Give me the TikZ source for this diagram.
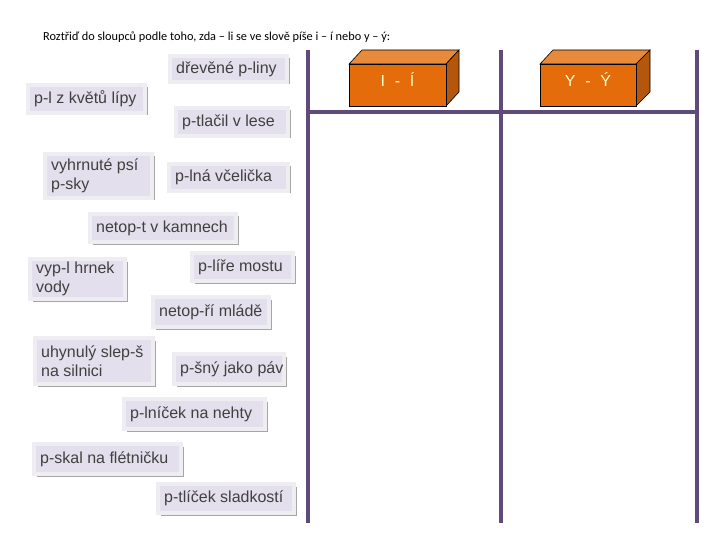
\documentclass[tikz,border=0pt]{standalone}
\usepackage{fontspec}
\setmainfont{Liberation Sans}
\newfontfamily\titlefont{Carlito}
\usetikzlibrary{shadows}
\definecolor{lav}{HTML}{E4DFEC}
\definecolor{frame}{HTML}{EEEDF2}
\definecolor{shad}{HTML}{A6A6A6}
\definecolor{txt}{HTML}{404040}
\definecolor{purp}{HTML}{5F4B7B}
\definecolor{orfront}{HTML}{E46C0A}
\definecolor{ortop}{HTML}{E88A3C}
\definecolor{orside}{HTML}{B4560C}
\definecolor{lbl}{HTML}{FFFFCC}
\tikzset{
  card/.style={rectangle, fill=lav, draw=frame, line width=3.5pt, inner sep=0pt,
    drop shadow={shadow xshift=2.5pt, shadow yshift=-2.5pt, fill=shad, opacity=1}},
  cardtext/.style={text=txt, font=\fontsize{16}{19.5}\selectfont, align=left,
    inner xsep=0pt, inner ysep=0pt, anchor=west},
  colline/.style={draw=purp, line width=4pt},
  boxedge/.style={draw=black, line width=0.6pt},
  boxlabel/.style={text=lbl, font=\fontsize{16}{19}\selectfont},
}
\newcommand{\mycard}[6]{%
  \pgfmathsetmacro{\cx}{(#2+#4)/2}%
  \pgfmathsetmacro{\cy}{(#3+#5)/2}%
  \pgfmathsetmacro{\cw}{#4-#2-4}%
  \pgfmathsetmacro{\ch}{#5-#3-4}%
  \pgfmathsetmacro{\tx}{#2+8}%
  \node[card, minimum width=\cw pt, minimum height=\ch pt] (#1) at (\cx,\cy) {};%
  \node[cardtext] (#1t) at (\tx,\cy) {#6};%
}
\begin{document}
\begin{tikzpicture}[x=1pt,y=-1pt]
\useasboundingbox[fill=white] (0,0) rectangle (720,540);
\node[anchor=west, font=\titlefont\fontsize{12.3}{14}\selectfont, inner sep=0pt] (title) at (43,37)
  {Roztřiď do sloupců podle toho, zda – li se ve slově píše i – í nebo y – ý:};
% column lines
\draw[colline] (308,50) -- (308,523);
\draw[colline] (501,50) -- (501,523);
\draw[colline] (697,50) -- (697,523);
\draw[colline] (306,112) -- (699,112);
% orange boxes
\filldraw[boxedge, fill=ortop] (349,64) -- (362,50) -- (459,50) -- (446,64) -- cycle;
\filldraw[boxedge, fill=orside] (446,64) -- (459,50) -- (459,92) -- (446,106) -- cycle;
\filldraw[boxedge, fill=orfront] (349,64) rectangle (446,106);
\node[boxlabel] (ii) at (397.5,80) {I\,\, -\,\, Í};
\filldraw[boxedge, fill=ortop] (540,64) -- (553,50) -- (650,50) -- (636,64) -- cycle;
\filldraw[boxedge, fill=orside] (636,64) -- (650,50) -- (650,92) -- (636,106) -- cycle;
\filldraw[boxedge, fill=orfront] (540,64) rectangle (636,106);
\node[boxlabel] (yy) at (588,80) {Y\,\, -\,\, Ý};
% word cards
\mycard{c1}{168}{54}{289}{84}{dřevěné p-liny}
\mycard{c2}{26}{83}{147}{115}{p-l z květů lípy}
\mycard{c3}{174}{106}{290}{138}{p-tlačil v lese}
\mycard{c4}{43}{152}{154}{200}{vyhrnuté psí\\p-sky}
\mycard{c5}{167}{162}{290}{193}{p-lná včelička}
\mycard{c6}{88}{212}{238}{244}{netop-t v kamnech}
\mycard{c7}{190}{251}{295}{283}{p-líře mostu}
\mycard{c8}{28}{257}{127}{301}{vyp-l hrnek\\vody}
\mycard{c9}{151}{295}{271}{329}{netop-ří mládě}
\mycard{c10}{33}{336}{155}{386}{uhynulý slep-š\\na silnici}
\mycard{c11}{172}{352}{286}{386}{p-šný jako páv}
\mycard{c12}{122}{397}{267}{431}{p-lníček na nehty}
\mycard{c13}{32}{442}{183}{476}{p-skal na flétničku}
\mycard{c14}{156}{482}{296}{515}{p-tlíček sladkostí}
\end{tikzpicture}
\end{document}
